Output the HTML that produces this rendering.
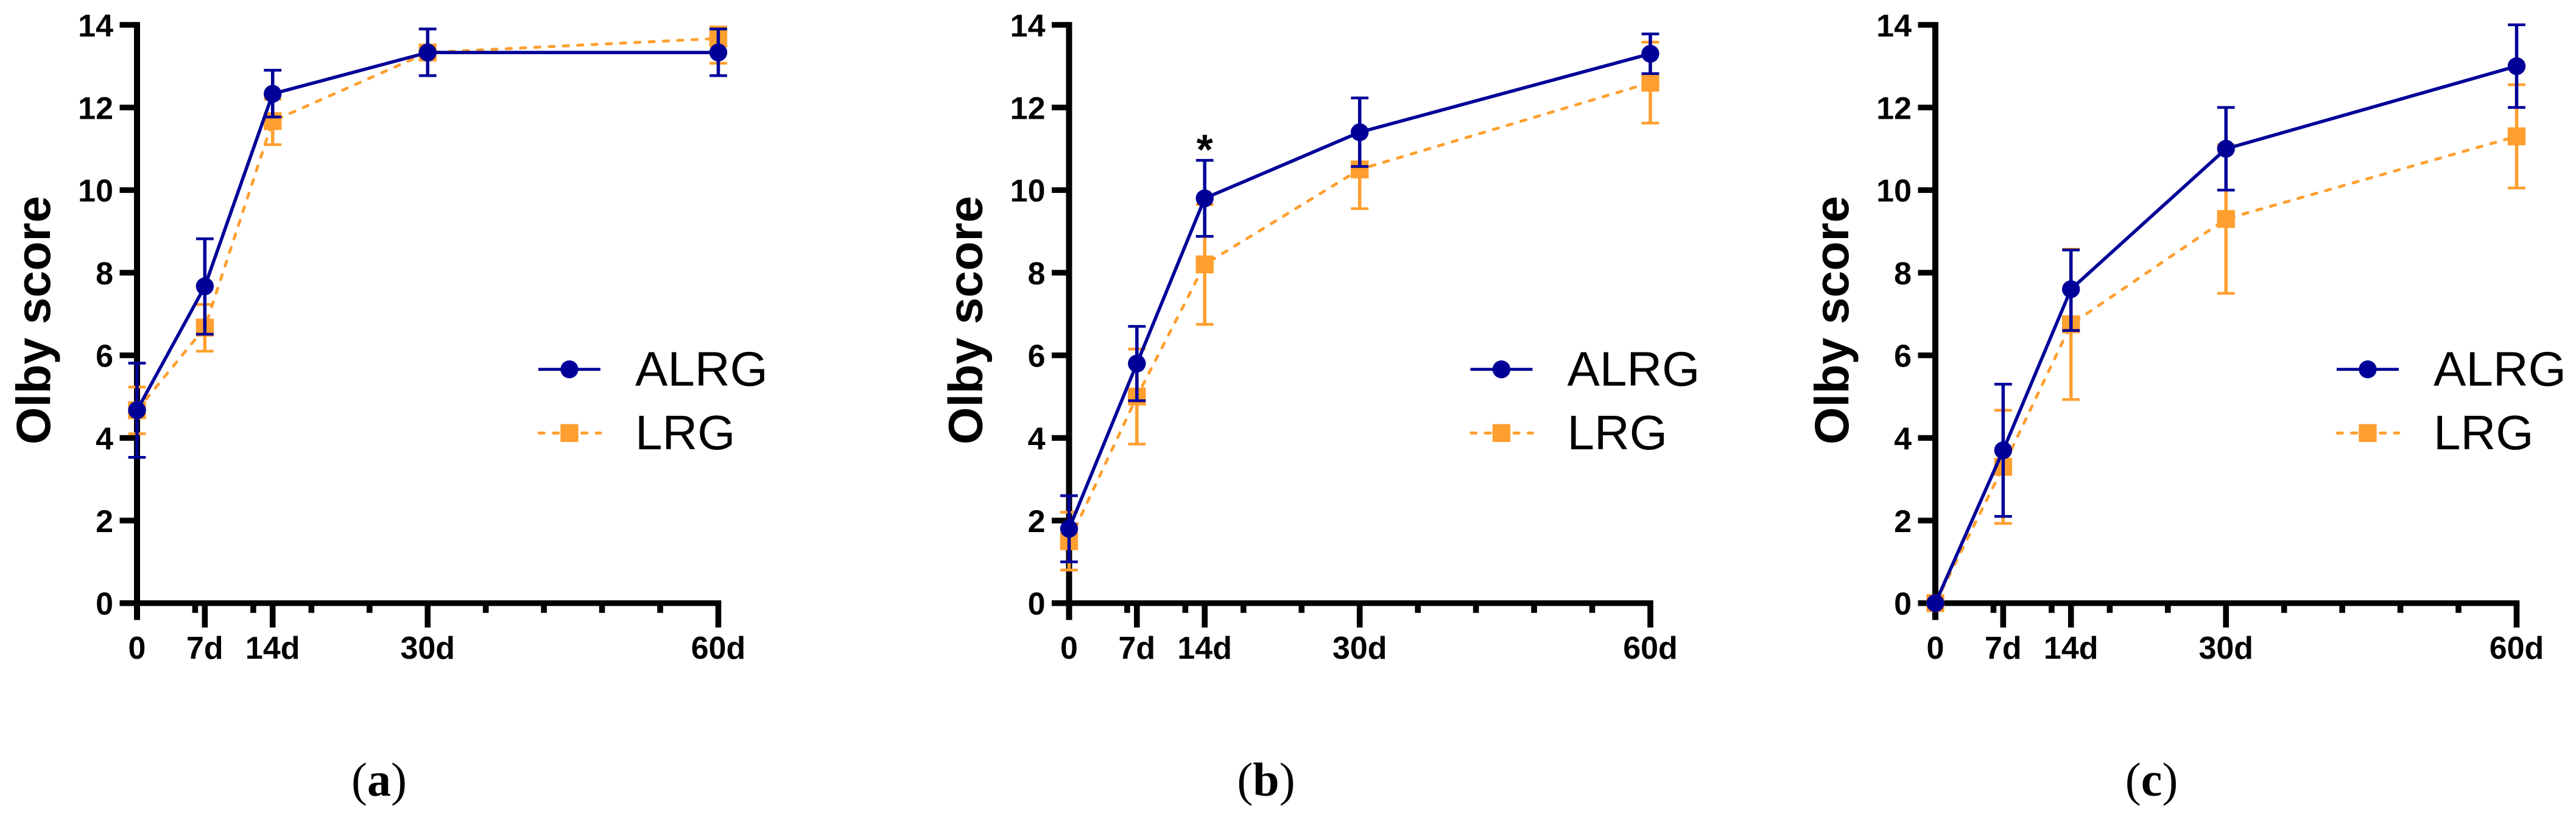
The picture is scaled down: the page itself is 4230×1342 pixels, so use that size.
<!DOCTYPE html>
<html lang="en">
<head>
<meta charset="utf-8">
<title>Olby score over time: ALRG vs LRG</title>
<style>
html,body{margin:0;padding:0;background:#fff;}
svg{display:block;}
text{font-family:"Liberation Sans",sans-serif;}
.tick{font-weight:700;font-size:52px;fill:#000;}
.ytitle{font-weight:700;font-size:79px;fill:#000;}
.legend{font-size:80px;fill:#000;}
.plabel{font-family:"Liberation Serif",serif;font-size:78px;fill:#000;}
</style>
</head>
<body>
<svg id="figure" xmlns="http://www.w3.org/2000/svg" width="4230" height="1342" viewBox="0 0 4230 1342">
<rect width="4230" height="1342" fill="#fff"/>
</svg>
<script>
// Shared axes
const timeDays = [0, 7, 14, 30, 60];
const timeLabels = ['0', '7d', '14d', '30d', '60d'];
const minorDays = [6, 12, 18, 24, 36, 42, 48, 54];
const yTicks = [0, 2, 4, 6, 8, 10, 12, 14];
const seriesNames = ['ALRG', 'LRG'];

// Panel (a)
const aAlrgMean = [4.67, 7.67, 12.33, 13.33, 13.33];
const aAlrgHigh = [5.81, 8.82, 12.9, 13.9, 13.9];
const aAlrgLow = [3.53, 6.51, 11.77, 12.77, 12.77];
const aLrgMean = [4.67, 6.67, 11.67, 13.33, 13.67];
const aLrgHigh = [5.23, 7.23, 12.2, 13.9, 13.95];
const aLrgLow = [4.1, 6.1, 11.1, 12.77, 13.07];

// Panel (b)
const bAlrgMean = [1.8, 5.8, 9.8, 11.4, 13.3];
const bAlrgHigh = [2.6, 6.7, 10.72, 12.23, 13.78];
const bAlrgLow = [1.0, 4.9, 8.88, 10.57, 12.82];
const bLrgMean = [1.5, 5.0, 8.2, 10.5, 12.6];
const bLrgHigh = [2.2, 6.15, 9.65, 11.45, 13.58];
const bLrgLow = [0.8, 3.85, 6.75, 9.55, 11.62];

// Panel (c)
const cAlrgMean = [0, 3.7, 7.6, 11, 13];
const cAlrgHigh = [0, 5.3, 8.55, 12, 14];
const cAlrgLow = [0, 2.1, 6.6, 10, 12];
const cLrgMean = [0, 3.3, 6.75, 9.3, 11.3];
const cLrgHigh = [0, 4.67, 8.57, 11.1, 12.55];
const cLrgLow = [0, 1.93, 4.93, 7.5, 10.05];

const NAVY = '#000099';
const ORANGE = '#FF9F2F';
const BLACK = '#000';
const SVGNS = 'http://www.w3.org/2000/svg';
const figure = document.getElementById('figure');

// axis functions
function xPos(day) { return 225 + day * 954.5 / 60; }
function yPos(v) { return 990.7 - v * 67.85; }

function make(parent, tag, attrs) {
  const el = document.createElementNS(SVGNS, tag);
  for (const k in attrs) el.setAttribute(k, attrs[k]);
  parent.appendChild(el);
  return el;
}

function drawAxes(g) {
  const top = yPos(yTicks[yTicks.length - 1]) - 4.6;
  const yAxis = make(g, 'rect', {x: xPos(0) - 5, y: top, width: 10, height: yPos(0) + 27.6 - top, fill: BLACK});
  
  
  const xAxis = make(g, 'rect', {x: 196.5, y: yPos(0) - 4.6, width: xPos(60) + 4.8 - 196.5, height: 9.3, fill: BLACK});
  
  

  yTicks.forEach(function (v) {
    const t = make(g, 'rect', {x: 196.5, y: yPos(v) - 4.6, width: 28, height: 9.3, fill: BLACK});
    
    
    const l = make(g, 'text', {x: 186, y: yPos(v) + 19, 'text-anchor': 'end', class: 'tick'});
    l.textContent = String(v);
    
    
  });
  minorDays.forEach(function (d) {
    const t = make(g, 'rect', {x: xPos(d) - 4.8, y: yPos(0), width: 9.6, height: 16, fill: BLACK});
    
    
  });
  timeDays.forEach(function (d, i) {
    const len = d === 0 ? 27.6 : 40;
    const t = make(g, 'rect', {x: xPos(d) - 4.8, y: yPos(0), width: 9.6, height: len, fill: BLACK});
    
    
    const l = make(g, 'text', {x: xPos(d), y: 1082, 'text-anchor': 'middle', class: 'tick'});
    l.textContent = timeLabels[i];
    
    
  });
  const title = make(g, 'text', {transform: 'translate(82,526) rotate(-90)', 'text-anchor': 'middle', class: 'ytitle'});
  title.textContent = 'Olby score';
  
  
}

function drawMarker(g, kind, color, cx, cy) {
  if (kind === 'circle') {
    return make(g, 'circle', {cx: cx, cy: cy, r: 14.7, fill: color});
  }
  return make(g, 'rect', {x: cx - 14.7, y: cy - 14.7, width: 29.4, height: 29.4, fill: color});
}

function drawSeries(g, mean, high, low, color, kind, dashed) {
  const pts = mean.map(function (v, i) { return xPos(timeDays[i]) + ',' + yPos(v); }).join(' ');
  const attrs = {points: pts, fill: 'none', stroke: color, 'stroke-width': dashed ? 4.8 : 5.5, 'stroke-linejoin': 'round'};
  if (dashed) {
    attrs['stroke-dasharray'] = '8.5 15';
    attrs['stroke-linecap'] = 'round';
  }
  const line = make(g, 'polyline', attrs);
  
  
  mean.forEach(function (v, i) {
    const x = xPos(timeDays[i]);
    const stem = make(g, 'line', {x1: x, x2: x, y1: yPos(high[i]), y2: yPos(low[i]), stroke: color, 'stroke-width': 5.5});
    
    
    const capTop = make(g, 'line', {x1: x - 14.4, x2: x + 14.4, y1: yPos(high[i]), y2: yPos(high[i]), stroke: color, 'stroke-width': 4.5});
    
    
    const capLow = make(g, 'line', {x1: x - 14.4, x2: x + 14.4, y1: yPos(low[i]), y2: yPos(low[i]), stroke: color, 'stroke-width': 4.5});
    
    
    const m = drawMarker(g, kind, color, x, yPos(v));
    
    
  });
}

function drawLegend(g) {
  const rowY = [606.7, 711.3];
  const baseY = [633.3, 738];
  const colors = [NAVY, ORANGE];
  const kinds = ['circle', 'square'];
  seriesNames.forEach(function (name, i) {
    const attrs = {x1: 884, x2: 986, y1: rowY[i], y2: rowY[i], stroke: colors[i], 'stroke-width': 4.8};
    if (i === 1) {
      attrs['stroke-dasharray'] = '8.5 15';
      attrs['stroke-dashoffset'] = '-1';
      attrs['stroke-linecap'] = 'round';
    }
    const ln = make(g, 'line', attrs);
    
    
    const m = drawMarker(g, kinds[i], colors[i], 935, rowY[i]);
    
    
    const t = make(g, 'text', {x: 1043, y: baseY[i], class: 'legend'});
    t.textContent = name;
    
    
  });
}

function drawPanel(name, dx, labelX, letter, s) {
  const g = make(figure, 'g', {transform: 'translate(' + dx + ',0)'});
  
  
  drawAxes(g);
  drawSeries(g, s.lrgMean, s.lrgHigh, s.lrgLow, ORANGE, 'square', true);
  drawSeries(g, s.alrgMean, s.alrgHigh, s.alrgLow, NAVY, 'circle', false);
  drawLegend(g);
  const lab = make(figure, 'text', {x: labelX, y: 1307, 'text-anchor': 'middle', class: 'plabel'});
  
  
  const p1 = make(lab, 'tspan', {});
  p1.textContent = '(';
  const p2 = make(lab, 'tspan', {'font-weight': 700});
  p2.textContent = letter;
  const p3 = make(lab, 'tspan', {});
  p3.textContent = ')';
  return g;
}

drawPanel('panel-a', 0, 622.5, 'a', {alrgMean: aAlrgMean, alrgHigh: aAlrgHigh, alrgLow: aAlrgLow, lrgMean: aLrgMean, lrgHigh: aLrgHigh, lrgLow: aLrgLow});
const panelB = drawPanel('panel-b', 1530.5, 2079, 'b', {alrgMean: bAlrgMean, alrgHigh: bAlrgHigh, alrgLow: bAlrgLow, lrgMean: bLrgMean, lrgHigh: bLrgHigh, lrgLow: bLrgLow});
drawPanel('panel-c', 2953, 3533, 'c', {alrgMean: cAlrgMean, alrgHigh: cAlrgHigh, alrgLow: cAlrgLow, lrgMean: cLrgMean, lrgHigh: cLrgHigh, lrgLow: cLrgLow});

const star = make(panelB, 'text', {x: xPos(14), y: yPos(bAlrgHigh[2]) + 6, 'text-anchor': 'middle', 'font-size': 70, 'font-weight': 700, fill: BLACK});
star.textContent = '*';


</script>
</body>
</html>
